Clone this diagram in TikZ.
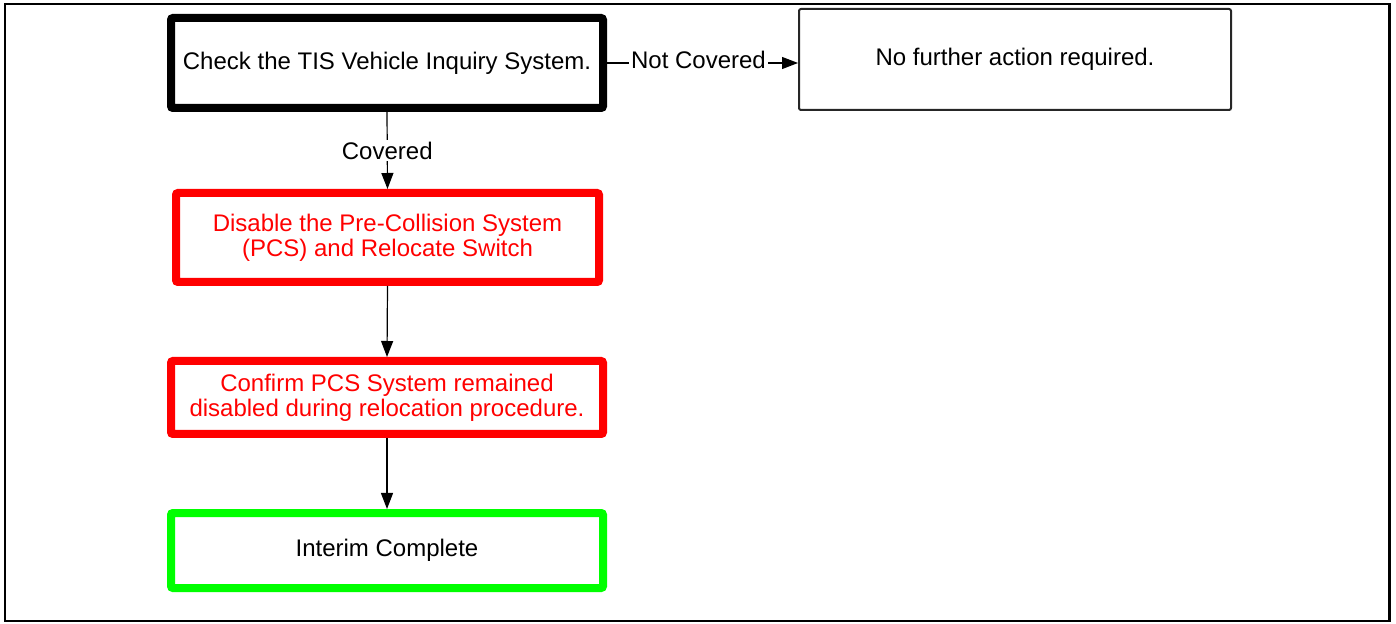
\documentclass[tikz,border=0pt]{standalone}
\usepackage{fontspec}
\setmainfont{Liberation Sans}
\usetikzlibrary{arrows.meta}
\definecolor{pcsred}{RGB}{255,0,0}
\definecolor{okgreen}{RGB}{0,255,0}
\tikzset{
  box/.style={draw, rectangle, rounded corners=1pt, align=center, inner sep=0pt,
    font=\fontsize{12pt}{12.6pt}\selectfont},
  thickbox/.style={box, line width=4pt},
  thinbox/.style={box, line width=1pt, draw=black!85},
  flow/.style={draw=black, line width=0.6pt, -{Triangle[length=8pt,width=6pt]}},
  lbl/.style={fill=white, inner sep=1pt, font=\fontsize{12pt}{12.6pt}\selectfont}
}
\begin{document}
\begin{tikzpicture}[x=0.5pt,y=-0.5pt]
\useasboundingbox (0,0) rectangle (1396,624);
\draw[line width=1.1pt] (5,4.3) rectangle (1389.5,621);
\node[thickbox, minimum width=216pt, minimum height=45pt] (check) at (387,63) {Check the TIS Vehicle Inquiry System.};
\node[thinbox, minimum width=216pt, minimum height=50.5pt] (nofurther) at (1015,59.5) {No further action required.};
\node[thickbox, draw=pcsred, text=pcsred, minimum width=211.5pt, minimum height=44.5pt] (disable) at (387.5,237.5) {Disable the Pre-Collision System\\(PCS) and Relocate Switch};
\node[thickbox, draw=pcsred, text=pcsred, minimum width=216pt, minimum height=36.5pt] (confirm) at (387,397.5) {Confirm PCS System remained\\disabled during relocation procedure.};
\node[thickbox, draw=okgreen, minimum width=216pt, minimum height=37.5pt] (interim) at (387,550.5) {Interim Complete};
\draw[flow] (check.east) -- node[lbl, xshift=-2pt, yshift=1.5pt] (nc) {Not Covered} (check.east -| nofurther.west);
\draw[flow] (check.south) -- node[lbl] (cv) {Covered} (disable.north);
\draw[flow] (disable.south) -- (confirm.north);
\draw[flow] (confirm.south) -- (interim.north);
\end{tikzpicture}
\end{document}
